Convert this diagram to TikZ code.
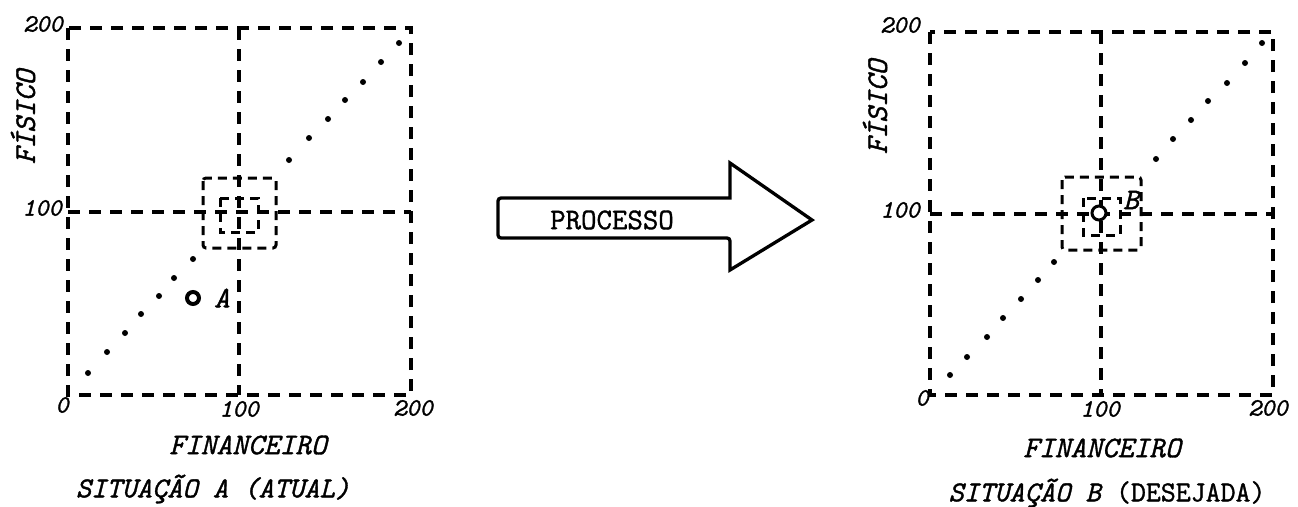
\documentclass[tikz,border=0pt]{standalone}
\usepackage{fontspec}
\setmonofont{Latin Modern Mono}[FakeBold=1.2]
\begin{document}
\begin{tikzpicture}[x=1pt,y=-1pt,
  frame/.style={line width=3.3pt, dash pattern=on 12pt off 9pt},
  innerbox/.style={line width=3pt, dash pattern=on 9pt off 6pt},
  dot/.style={circle, fill=black, inner sep=0pt, minimum size=6pt},
  lab/.style={font=\fontsize{30}{34}\selectfont\ttfamily\bfseries\itshape, inner sep=0pt},
  num/.style={font=\fontsize{25}{28}\selectfont\ttfamily\bfseries\itshape, inner sep=0pt},
  captext/.style={font=\fontsize{29}{33}\selectfont\ttfamily\bfseries\itshape, inner sep=0pt}]
\useasboundingbox (0,0) rectangle (1298,506);
% ---------- Panel A ----------
\draw[frame] (68,28) rectangle (411,395);
\draw[frame] (239,28) -- (239,395);
\draw[frame] (68,212) -- (411,212);
\draw[innerbox, rounded corners=3pt] (203,178) rectangle (276,248);
\draw[innerbox] (220,198) rectangle (258,232);
\foreach \p [count=\i] in {(88,373),(107,352),(125,333),(141,314),(159,296),(174,278),(193,259),(289,160),(309,138),(328,119),(345,100),(363,82),(381,62),(399,43)}
  \node[dot] (da\i) at \p {};
\node[circle, draw, line width=4pt, inner sep=0pt, minimum size=12pt] (ptA) at (193,298) {};
\node[lab] (labA) at (222,298) {A};
\node[num] (a200y) at (43,24) {200};
\node[num] (a100y) at (42,208) {100};
\node[num] (a0) at (62,405) {0};
\node[num] (a100x) at (239,409) {100};
\node[num] (a200x) at (413,408) {200};
\node[lab, rotate=90] (aFis) at (23,117) {FÍSICO};
\node[lab] (aFin) at (248,445) {FINANCEIRO};
\node[captext] (aCap) at (213,489) {SITUAÇÃO A (ATUAL)};
% ---------- Arrow ----------
\draw[line width=3.3pt, line join=miter, rounded corners=3pt]
  (730,198) -- (498,198) -- (498,238) -- (730,238) [sharp corners] -- (730,270) -- (812,220) -- (730,163) -- cycle;
\node[font=\fontsize{30}{34}\selectfont\ttfamily\bfseries, inner sep=0pt] (proc) at (612,220) {PROCESSO};
% ---------- Panel B ----------
\draw[frame] (930,32) rectangle (1273,395);
\draw[frame] (1101,32) -- (1101,395);
\draw[frame] (930,214) -- (1273,214);
\draw[innerbox, rounded corners=3pt] (1062,177) rectangle (1141,250);
\draw[innerbox] (1083,198) rectangle (1120,235);
\foreach \p [count=\i] in {(950,375),(967,357),(987,337),(1003,318),(1021,299),(1038,280),(1054,262),(1156,159),(1173,139),(1191,120),(1208,101),(1227,83),(1245,63),(1262,43)}
  \node[dot] (db\i) at \p {};
\node[circle, draw, fill=white, line width=3pt, inner sep=0pt, minimum size=14pt] (ptB) at (1099,213) {};
\node[lab] (labB) at (1131,200) {B};
\node[num] (b200y) at (900,25) {200};
\node[num] (b100y) at (900,210) {100};
\node[num] (b0) at (922,398) {0};
\node[num] (b100x) at (1100,409) {100};
\node[num] (b200x) at (1268,408) {200};
\node[lab, rotate=90] (bFis) at (875,107) {FÍSICO};
\node[lab] (bFin) at (1102,448) {FINANCEIRO};
\node[captext] (bCap) at (1107,493) {SITUAÇÃO B {\upshape(DESEJADA)}};
\end{tikzpicture}
\end{document}
